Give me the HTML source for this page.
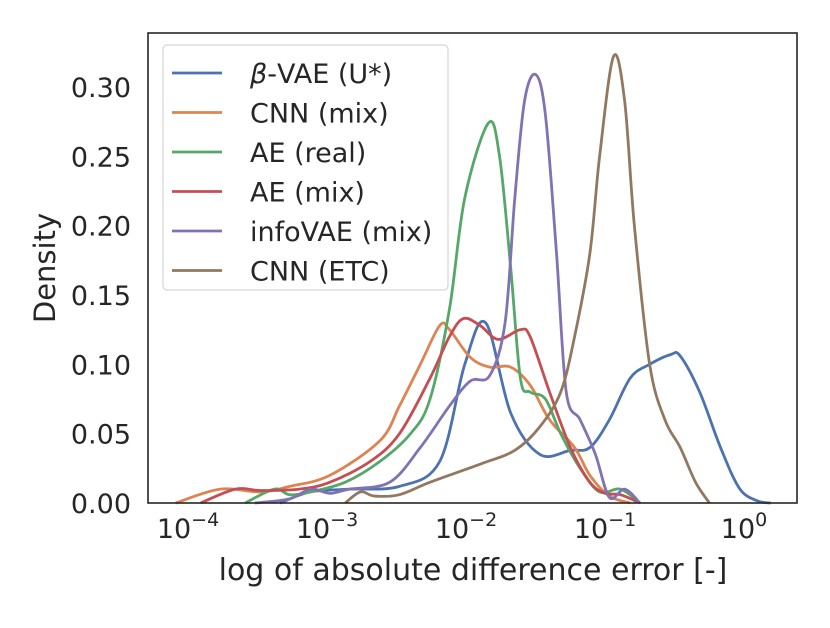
<!DOCTYPE html>
<html><head><meta charset="utf-8"><style>
body{margin:0;background:#fff;}
svg text{font-family:"DejaVu Sans","Liberation Sans",sans-serif;fill:#262626;}
</style></head><body>
<svg id="chart" width="830" height="623" xmlns="http://www.w3.org/2000/svg">
<rect width="830" height="623" fill="#fff"/>
<g id="ticks"></g>
<g id="lines"></g>
<rect x="148" y="33" width="649" height="470" fill="none" stroke="#262626" stroke-width="1.6"/>
<text x="473" y="580" font-size="30" text-anchor="middle">log of absolute difference error [-]</text>
<text transform="translate(55,268) rotate(-90)" font-size="29" text-anchor="middle">Density</text>
<g id="legend">
<rect x="163" y="45" width="285" height="245" rx="4" fill="#fff" fill-opacity="0.8" stroke="#ccc" stroke-width="1"/>
</g>
</svg>
<script>
const seriesNames=["β-VAE (U*)","CNN (mix)","AE (real)","AE (mix)","infoVAE (mix)","CNN (ETC)"];
const colors=["#4c72b0","#dd8452","#55a868","#c44e52","#8172b3","#937860"];
const blueX=[-3.31,-3.09,-2.81,-2.45,-2.16,-1.98,-1.83,-1.65,-1.44,-1.22,-1.08,-0.94,-0.79,-0.65,-0.50,-0.43,-0.29,-0.14,0,0.14,0.22];
const blueY=[0,0.008,0.01,0.012,0.03,0.10,0.13,0.065,0.035,0.038,0.04,0.06,0.09,0.10,0.107,0.106,0.08,0.04,0.01,0.001,0];
const orangeX=[-4.06,-3.74,-3.45,-3.24,-2.95,-2.59,-2.45,-2.30,-2.16,-2.09,-1.94,-1.80,-1.65,-1.51,-1.37,-1.19,-1.08,-0.94,-0.79];
const orangeY=[0,0.01,0.008,0.012,0.02,0.045,0.07,0.10,0.128,0.125,0.105,0.098,0.098,0.085,0.06,0.04,0.02,0.005,0];
const greenX=[-3.56,-3.35,-3.24,-3.09,-2.84,-2.59,-2.37,-2.23,-2.09,-1.98,-1.81,-1.73,-1.65,-1.58,-1.51,-1.40,-1.29,-1.15,-1.01,-0.86,-0.72];
const greenY=[0,0.01,0.006,0.008,0.015,0.03,0.05,0.075,0.14,0.22,0.274,0.25,0.17,0.09,0.08,0.075,0.05,0.025,0.008,0.01,0];
const redX=[-3.88,-3.63,-3.45,-3.17,-2.95,-2.66,-2.45,-2.23,-2.09,-1.99,-1.87,-1.74,-1.58,-1.51,-1.37,-1.22,-1.08,-0.97,-0.86,-0.72];
const redY=[0,0.01,0.009,0.01,0.015,0.03,0.05,0.09,0.12,0.133,0.128,0.118,0.125,0.12,0.08,0.04,0.015,0.007,0.006,0];
const purpleX=[-3.49,-3.24,-3.09,-2.95,-2.81,-2.52,-2.30,-2.09,-1.94,-1.80,-1.69,-1.62,-1.55,-1.47,-1.40,-1.32,-1.25,-1.15,-1.04,-0.94,-0.83,-0.72];
const purpleY=[0,0.003,0.01,0.007,0.01,0.015,0.04,0.07,0.088,0.092,0.13,0.22,0.29,0.309,0.28,0.18,0.08,0.06,0.035,0.004,0.01,0];
const brownX=[-2.84,-2.73,-2.63,-2.45,-2.23,-1.87,-1.62,-1.44,-1.29,-1.19,-1.08,-1.01,-0.91,-0.83,-0.76,-0.65,-0.54,-0.43,-0.32,-0.22];
const brownY=[0,0.008,0.005,0.006,0.015,0.028,0.038,0.055,0.08,0.12,0.18,0.25,0.322,0.29,0.20,0.10,0.06,0.04,0.015,0];
const yTicks=[0,0.05,0.10,0.15,0.20,0.25,0.30];
const yTickLabels=["0.00","0.05","0.10","0.15","0.20","0.25","0.30"];
const xTicks=[-4,-3,-2,-1,0];
const xTickLabels=["−4","−3","−2","−1","0"];
const allX=[blueX,orangeX,greenX,redX,purpleX,brownX];
const allY=[blueY,orangeY,greenY,redY,purpleY,brownY];
const lineNames=['line-beta-vae','line-cnn-mix','line-ae-real','line-ae-mix','line-infovae-mix','line-cnn-etc'];
function sx(l){return 184+(l+4)*139;}
function sy(v){return 503-v*1386.67;}
const NS="http://www.w3.org/2000/svg";
const tg=document.getElementById('ticks');
yTicks.forEach((v,i)=>{const t=document.createElementNS(NS,'text');
t.setAttribute('x',131);t.setAttribute('y',sy(v)+10);t.setAttribute('font-size','27');t.setAttribute('text-anchor','end');
t.textContent=yTickLabels[i];


tg.appendChild(t);});
xTicks.forEach((v,i)=>{const t=document.createElementNS(NS,'text');
t.setAttribute('x',sx(v)+4);t.setAttribute('y',538);t.setAttribute('font-size','27');t.setAttribute('text-anchor','middle');
t.innerHTML='10<tspan dy="-12" font-size="19">'+xTickLabels[i]+'</tspan>';


tg.appendChild(t);});
function pathFor(xs,ys){const p=xs.map((x,i)=>[sx(x),sy(ys[i])]);
let d='M'+p[0][0]+','+p[0][1];
for(let i=0;i<p.length-1;i++){const p0=p[i-1]||p[i],p1=p[i],p2=p[i+1],p3=p[i+2]||p2;
const c1=[p1[0]+(p2[0]-p0[0])/6,p1[1]+(p2[1]-p0[1])/6];
const c2=[p2[0]-(p3[0]-p1[0])/6,p2[1]-(p3[1]-p1[1])/6];
d+=' C'+c1[0]+','+Math.min(503,c1[1])+' '+c2[0]+','+Math.min(503,c2[1])+' '+p2[0]+','+p2[1];}
return d;}
const lg=document.getElementById('lines');
allX.forEach((xs,k)=>{const pa=document.createElementNS(NS,'path');
pa.setAttribute('d',pathFor(xs,allY[k]));pa.setAttribute('fill','none');pa.setAttribute('stroke',colors[k]);pa.setAttribute('stroke-width','2.8');pa.setAttribute('stroke-linejoin','round');


lg.appendChild(pa);});
const leg=document.getElementById('legend');
seriesNames.forEach((n,i)=>{const y=73+i*39.5;
const l=document.createElementNS(NS,'line');
l.setAttribute('x1',172);l.setAttribute('x2',222);l.setAttribute('y1',y);l.setAttribute('y2',y);l.setAttribute('stroke',colors[i]);l.setAttribute('stroke-width','2.8');


leg.appendChild(l);
const t=document.createElementNS(NS,'text');
t.setAttribute('x',250);t.setAttribute('y',y+10);t.setAttribute('font-size','27');
if(i===0){t.innerHTML='<tspan font-style="italic">β</tspan>-VAE (U*)';}else{t.textContent=n;}


leg.appendChild(t);});
</script>
</body></html>
